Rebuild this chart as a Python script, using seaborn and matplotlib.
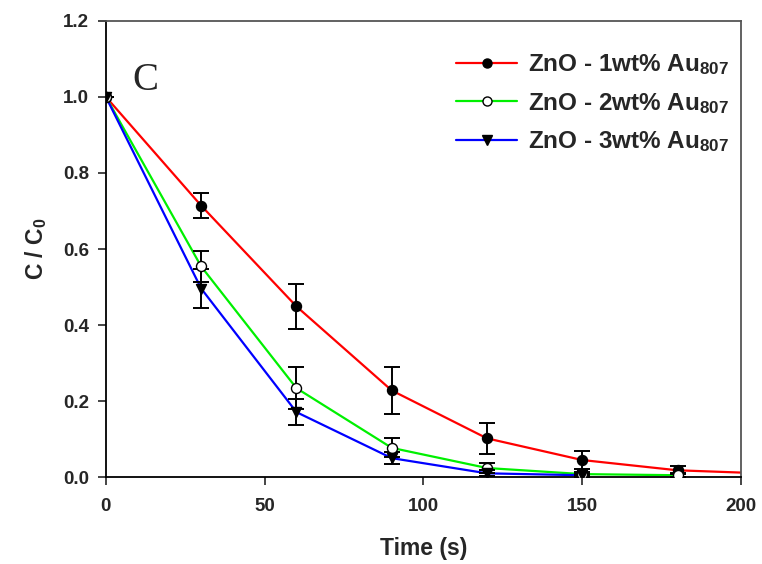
import matplotlib
matplotlib.use("Agg")
import matplotlib.pyplot as plt
from matplotlib.lines import Line2D
import seaborn as sns

# ---- data ----
labels = ["ZnO - 1wt% Au$_{\\mathbf{807}}$",
          "ZnO - 2wt% Au$_{\\mathbf{807}}$",
          "ZnO - 3wt% Au$_{\\mathbf{807}}$"]

# 1 wt%
t1 = [0, 30, 60, 90, 120, 150, 180]
c1 = [1.0, 0.714, 0.449, 0.228, 0.102, 0.045, 0.018]
e1 = [0.0, 0.032, 0.060, 0.062, 0.040, 0.024, 0.010]
line_t1 = [0, 30, 60, 90, 120, 150, 180, 200]
line_c1 = [1.0, 0.714, 0.449, 0.228, 0.102, 0.045, 0.018, 0.012]

# 2 wt%
t2 = [0, 30, 60, 90, 120, 150, 180]
c2 = [1.0, 0.554, 0.234, 0.077, 0.024, 0.008, 0.005]
e2 = [0.0, 0.040, 0.055, 0.025, 0.013, 0.006, 0.005]
line_t2 = [0, 30, 60, 90, 120, 150, 180]
line_c2 = [1.0, 0.554, 0.234, 0.077, 0.024, 0.008, 0.005]

# 3 wt%
t3 = [0, 30, 60, 90, 120, 150]
c3 = [1.0, 0.496, 0.171, 0.050, 0.010, 0.005]
e3 = [0.0, 0.052, 0.035, 0.015, 0.008, 0.004]
line_t3 = [0, 30, 60, 90, 120, 150]
line_c3 = [1.0, 0.496, 0.171, 0.050, 0.010, 0.005]

x_ticks = [0, 50, 100, 150, 200]
y_ticks = [0.0, 0.2, 0.4, 0.6, 0.8, 1.0, 1.2]

# ---- style ----
sns.set_style("ticks")
plt.rcParams["font.family"] = ["Liberation Sans", "DejaVu Sans"]
plt.rcParams["font.weight"] = "bold"
plt.rcParams["mathtext.fontset"] = "custom"
plt.rcParams["mathtext.rm"] = "Liberation Sans:bold"
plt.rcParams["mathtext.bf"] = "Liberation Sans:bold"
plt.rcParams["mathtext.it"] = "Liberation Sans:bold"

fig = plt.figure(figsize=(7.62, 5.64), dpi=100)
ax = fig.add_axes([0.139, 0.154, 0.8335, 0.809])

colors = ["#ff0000", "#00f000", "#0000ff"]
markers = ["o", "o", "v"]
mfaces = ["black", "white", "black"]

lines = [(line_t1, line_c1), (line_t2, line_c2), (line_t3, line_c3)]
pts = [(t1, c1, e1), (t2, c2, e2), (t3, c3, e3)]

for (lt, lc), col in zip(lines, colors):
    sns.lineplot(x=lt, y=lc, ax=ax, color=col, linewidth=1.6, zorder=2,
                 estimator=None, sort=False)

for (t, c, e), mk, mf in zip(pts, markers, mfaces):
    ax.errorbar(t, c, yerr=e, fmt="none", ecolor="black", elinewidth=1.4,
                capsize=5.5, capthick=1.4, zorder=3)
    sns.scatterplot(x=t, y=c, ax=ax, marker=mk, s=52, color=mf,
                    edgecolor="black", linewidth=1.0, zorder=4)

ax.set_xlim(0, 200)
ax.set_ylim(0, 1.2)
ax.set_xticks(x_ticks)
ax.set_yticks(y_ticks)
ax.set_xticklabels([str(v) for v in x_ticks])
ax.set_yticklabels([f"{v:.1f}" for v in y_ticks])
ax.tick_params(axis="both", direction="out", length=6, width=1.2,
               labelsize=13.5, top=False, right=False)
ax.tick_params(axis="x", pad=9)
ax.tick_params(axis="y", pad=6)
for lab in ax.get_xticklabels() + ax.get_yticklabels():
    lab.set_fontweight("bold")

for side in ["left", "bottom"]:
    ax.spines[side].set_color("black")
    ax.spines[side].set_linewidth(1.3)
for side in ["top", "right"]:
    ax.spines[side].set_visible(True)
    ax.spines[side].set_color("#555555")
    ax.spines[side].set_linewidth(1.3)

ax.set_xlabel("Time (s)", fontsize=16.5, fontweight="bold", labelpad=16)
ax.set_ylabel("C / C$_{\\mathbf{0}}$", fontsize=16.5, fontweight="bold", labelpad=10)

ax.text(0.042, 0.87, "C", transform=ax.transAxes, fontsize=28,
        family=["Liberation Serif", "DejaVu Serif"], fontweight="normal",
        va="center", ha="left")

handles = [Line2D([0], [0], color=col, lw=1.6, marker=mk, markersize=6.5,
                  markerfacecolor=mf, markeredgecolor="black", markeredgewidth=1.0)
           for col, mk, mf in zip(colors, markers, mfaces)]
leg = ax.legend(handles, labels, loc="upper right", bbox_to_anchor=(1.008, 0.968),
                frameon=False, fontsize=17.5, handlelength=2.5, labelspacing=0.55,
                handletextpad=0.45, borderaxespad=0.3)
for t in leg.get_texts():
    t.set_fontweight("bold")

fig.savefig("out.png", dpi=100)
